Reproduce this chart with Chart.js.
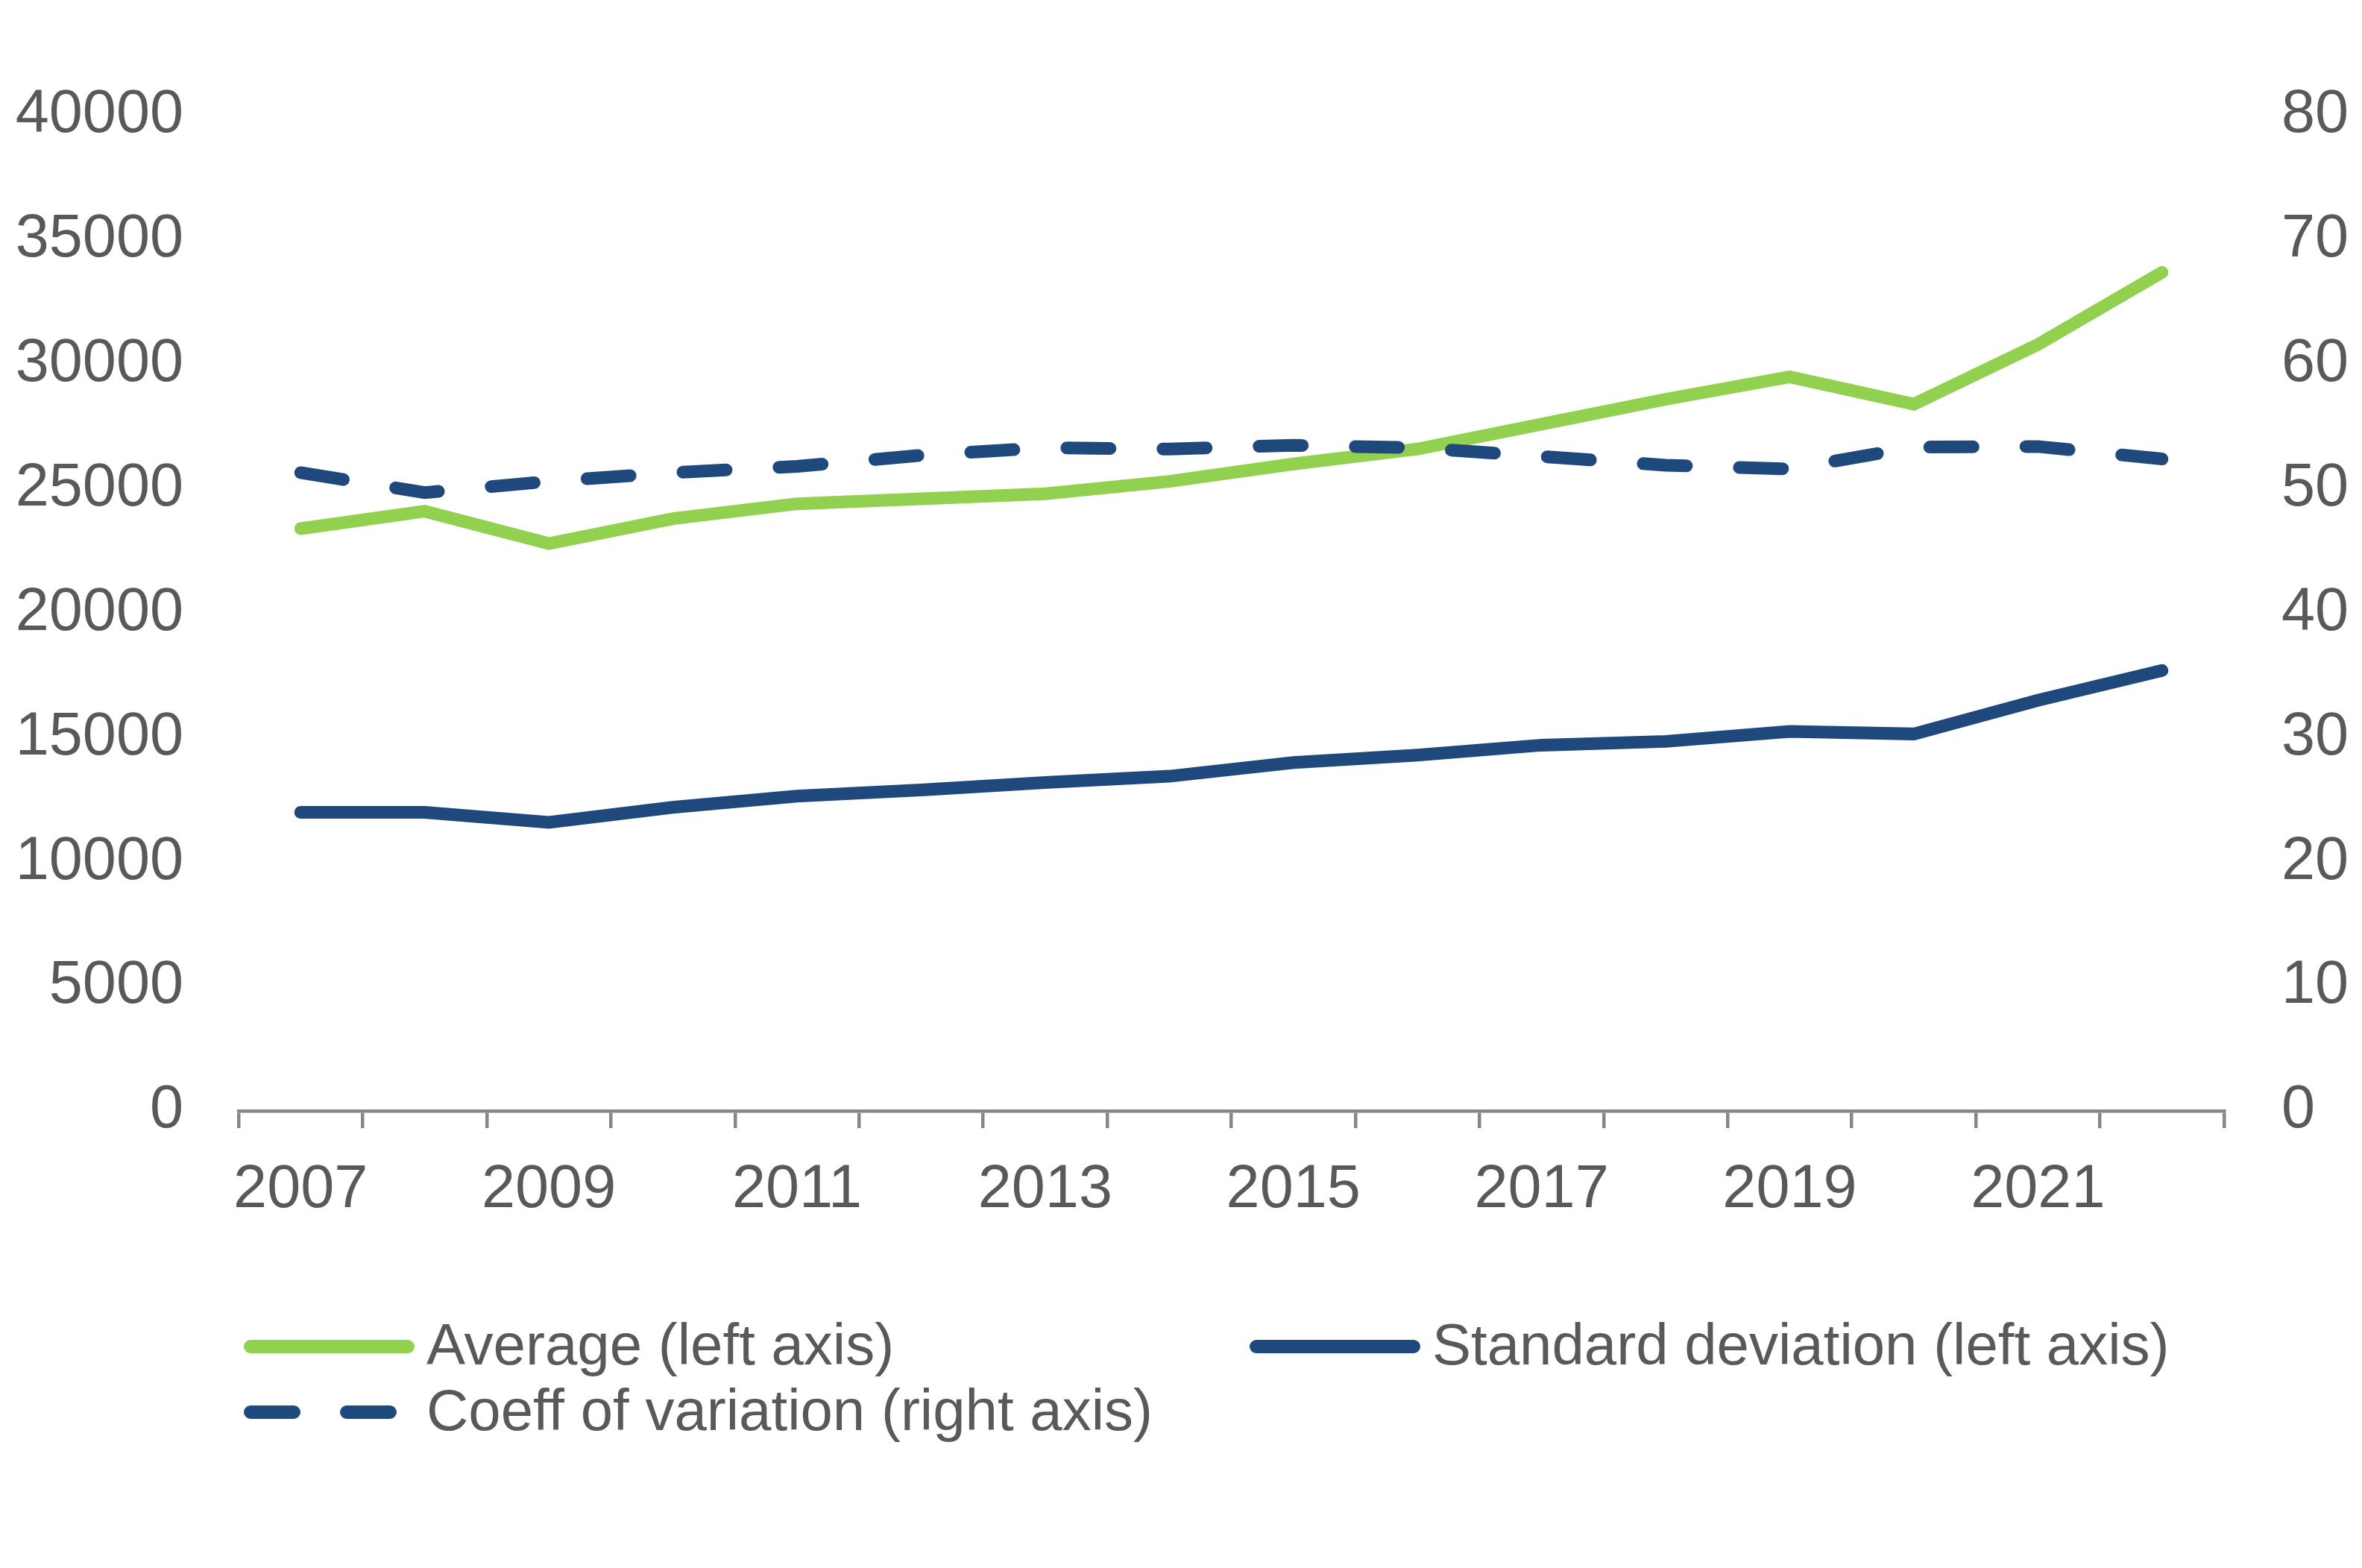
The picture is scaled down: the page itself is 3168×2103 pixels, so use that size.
<!DOCTYPE html>
<html>
<head>
<meta charset="utf-8">
<script src="https://cdn.jsdelivr.net/npm/chart.js@4.4.1/dist/chart.umd.min.js"></script>
<style>
  html, body { margin: 0; padding: 0; background: #fff; }
  #wrap { width: 3168px; height: 2103px; position: relative; }
</style>
</head>
<body>
<div id="wrap"><canvas id="myChart"></canvas></div>
<script>
const years = ['2007','2008','2009','2010','2011','2012','2013','2014',
  '2015','2016','2017','2018','2019','2020','2021','2022'];

const average = [23400, 24100, 22800, 23800, 24400, 24600, 24800, 25300,
  26000, 26600, 27600, 28600, 29500, 28400, 30800, 33700];
const stdDev = [12000, 12000, 11600, 12200, 12650, 12900, 13200, 13450,
  14000, 14300, 14700, 14850, 15250, 15150, 16500, 17700];
const coeffVar = [51.3, 49.7, 50.6, 51.3, 51.8, 52.7, 53.3, 53.2,
  53.5, 53.3, 52.6, 51.9, 51.6, 53.35, 53.4, 52.4];

const leftTicks = { min: 0, max: 40000, step: 5000 };
const rightTicks = { min: 0, max: 80, step: 10 };

const GREEN = '#92D050';
const NAVY = '#1F497D';
const TEXT = '#595959';
const AXIS = '#868686';
const FONT = "'Liberation Sans', Arial, sans-serif";

// legend drawn by hand: Excel style two columns
const legendLayout = [
  { x: 327, y: 1806 },
  { x: 1676, y: 1806 },
  { x: 327, y: 1894 }
];

const sideLegend = {
  id: 'sideLegend',
  afterDraw(chart) {
    const ctx = chart.ctx;
    const ds = chart.data.datasets;
    ctx.save();
    ctx.font = '78px ' + FONT;
    ctx.fillStyle = TEXT;
    ctx.textBaseline = 'alphabetic';
    ds.forEach(function (d) {
      const pos = legendLayout[d.legendIndex];
      ctx.beginPath();
      ctx.strokeStyle = d.borderColor;
      ctx.lineWidth = 18;
      ctx.lineCap = 'round';
      ctx.setLineDash(d.borderDash || []);
      ctx.moveTo(pos.x + 9, pos.y);
      ctx.lineTo(pos.x + 220, pos.y);
      ctx.stroke();
      ctx.setLineDash([]);
      ctx.fillText(d.label, pos.x + 245, pos.y + 24);
    });
    ctx.restore();
  }
};

const data = {
  labels: years,
  datasets: [
    {
      label: 'Coeff of variation (right axis)',
      data: coeffVar,
      yAxisID: 'y1',
      borderColor: NAVY,
      borderWidth: 17,
      borderDash: [58, 71],
      borderCapStyle: 'round',
      pointRadius: 0,
      legendIndex: 2,
      order: 0
    },
    {
      label: 'Standard deviation (left axis)',
      data: stdDev,
      yAxisID: 'y',
      borderColor: NAVY,
      borderWidth: 17,
      borderCapStyle: 'round',
      pointRadius: 0,
      legendIndex: 1,
      order: 1
    },
    {
      label: 'Average (left axis)',
      data: average,
      yAxisID: 'y',
      borderColor: GREEN,
      borderWidth: 17,
      borderCapStyle: 'round',
      pointRadius: 0,
      legendIndex: 0,
      order: 2
    }
  ]
};

const tickFont = { family: FONT, size: 81, lineHeight: 1 };

const plainNumber = function (value) { return String(value); };

const config = {
  type: 'line',
  data: data,
  options: {
    responsive: true,
    maintainAspectRatio: false,
    animation: false,
    layout: { padding: { top: 155, left: 0, right: 0, bottom: 453 } },
    plugins: {
      legend: { display: false },
      tooltip: { enabled: false },
      title: { display: false }
    },
    scales: {
      x: {
        type: 'category',
        offset: true,
        grid: {
          offset: true,
          drawOnChartArea: false,
          drawTicks: true,
          tickLength: 23,
          tickColor: AXIS,
          lineWidth: 4.5
        },
        border: { display: true, color: AXIS, width: 4.5 },
        ticks: {
          autoSkip: false,
          maxRotation: 0,
          padding: 43,
          color: TEXT,
          font: tickFont,
          callback: function (value, index) {
            return index % 2 === 0 ? this.getLabelForValue(value) : '';
          }
        },
        afterFit: function (scale) { scale.height = 160; }
      },
      y: {
        position: 'left',
        min: leftTicks.min,
        max: leftTicks.max,
        grid: { display: false, drawTicks: false },
        border: { display: false },
        ticks: { stepSize: leftTicks.step, padding: 74, color: TEXT, font: tickFont, callback: plainNumber },
        afterFit: function (scale) { scale.width = 320; }
      },
      y1: {
        position: 'right',
        min: rightTicks.min,
        max: rightTicks.max,
        grid: { display: false, drawTicks: false },
        border: { display: false },
        ticks: { stepSize: rightTicks.step, padding: 77, color: TEXT, font: tickFont, callback: plainNumber },
        afterFit: function (scale) { scale.width = 185; }
      }
    }
  },
  plugins: [sideLegend]
};

const ctxChart = document.getElementById('myChart').getContext('2d');
const chart = new Chart(ctxChart, config);
</script>
</body>
</html>
